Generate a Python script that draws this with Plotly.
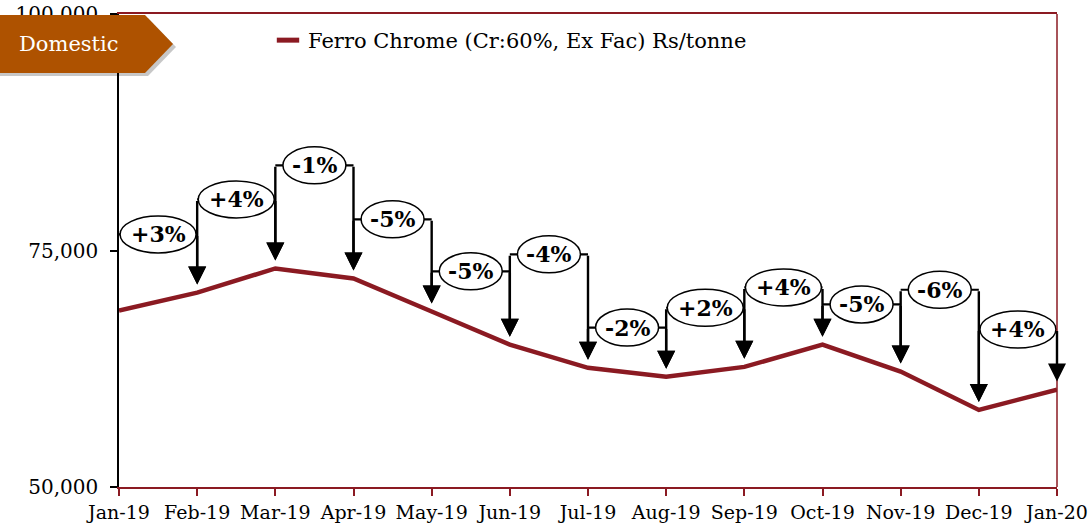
import plotly.graph_objects as go

months = ["Jan-19", "Feb-19", "Mar-19", "Apr-19", "May-19", "Jun-19", "Jul-19",
          "Aug-19", "Sep-19", "Oct-19", "Nov-19", "Dec-19", "Jan-20"]
prices = [68650, 70550, 73100, 72050, 68550, 65050, 62600,
          61650, 62700, 65050, 62200, 58150, 60300]
change_labels = ["+3%", "+4%", "-1%", "-5%", "-5%", "-4%", "-2%",
                 "+2%", "+4%", "-5%", "-6%", "+4%"]
# height (in Rs/tonne) at which each month-to-month change label sits
label_levels = [76700, 80400, 84000, 78300, 72800, 74600, 66850,
                68950, 71100, 69300, 70850, 66650]

series_name = "Ferro Chrome (Cr:60%, Ex Fac) Rs/tonne"
y_ticks = [50000, 75000, 100000]

DARK_RED = "#8B1A22"
FONT = "DejaVu Serif"

W, H = 1089, 527
ML, MT, MR, MB = 119, 14, 32, 40
PW, PH = W - ML - MR, H - MT - MB

xs = list(range(len(months)))

fig = go.Figure()
fig.add_trace(go.Scatter(x=xs, y=prices, mode="lines",
                         line=dict(color=DARK_RED, width=4.5),
                         showlegend=False, hoverinfo="skip"))
fig.add_trace(go.Scatter(x=[None], y=[None], mode="markers", name=series_name,
                         marker=dict(symbol="line-ew-open", size=18, color=DARK_RED,
                                     line=dict(color=DARK_RED, width=5))))

shapes = []
annotations = []
for i, lvl in enumerate(label_levels):
    shapes.append(dict(type="line", xref="x", yref="y", x0=i, x1=i + 1, y0=lvl, y1=lvl,
                       line=dict(color="black", width=2.2), layer="above"))
for i, (lvl, lab) in enumerate(zip(label_levels, change_labels)):
    w = 63 if lab.startswith("-") else 76
    shapes.append(dict(type="circle", xref="x", yref="y", xsizemode="pixel", ysizemode="pixel",
                       xanchor=i + 0.5, yanchor=lvl, x0=-w / 2, x1=w / 2, y0=-18.5, y1=18.5,
                       fillcolor="white", line=dict(color="black", width=1.5), layer="above"))
    annotations.append(dict(x=i + 0.5, y=lvl, xref="x", yref="y", text="<b>%s</b>" % lab,
                            showarrow=False, xanchor="center", yanchor="middle",
                            font=dict(family=FONT, size=22, color="black")))
for i, lvl in enumerate(label_levels):
    for j in ([i, i + 1] if i > 0 else [i + 1]):
        annotations.append(dict(x=j, y=prices[j], xref="x", yref="y",
                                ax=j, ay=lvl, axref="x", ayref="y", text="",
                                showarrow=True, arrowhead=2, arrowsize=1.5, arrowwidth=2.4,
                                arrowcolor="black", standoff=8))

shapes.append(dict(type="line", xref="paper", yref="paper", x0=1, x1=1, y0=0, y1=1,
                   line=dict(color=DARK_RED, width=1.5), layer="above"))
shapes.append(dict(type="path", xref="paper", yref="paper", xsizemode="pixel", ysizemode="pixel",
                   xanchor=0, yanchor=1,
                   path="M -119,-4 L 29,-4 L 57,-33 L 29,-62 L -119,-62 Z",
                   fillcolor="rgba(0,0,0,0.22)", line=dict(width=0), layer="above"))
shapes.append(dict(type="path", xref="paper", yref="paper", xsizemode="pixel", ysizemode="pixel",
                   xanchor=0, yanchor=1,
                   path="M -119,-1 L 26,-1 L 54,-30 L 26,-59 L -119,-59 Z",
                   fillcolor="#AE5200", line=dict(width=0), layer="above"))
annotations.append(dict(x=-50 / PW, y=1 - 30 / PH, xref="paper", yref="paper",
                        xanchor="center", yanchor="middle",
                        text="Domestic", showarrow=False,
                        font=dict(family=FONT, size=21, color="white")))

fig.update_layout(
    width=W, height=H,
    margin=dict(l=ML, r=MR, t=MT, b=MB, autoexpand=False),
    paper_bgcolor="white", plot_bgcolor="white",
    font=dict(family=FONT, color="black"),
    shapes=shapes, annotations=annotations,
    legend=dict(x=149 / PW, y=1 - 6 / PH, xanchor="left", yanchor="top",
                orientation="h", bgcolor="rgba(0,0,0,0)",
                font=dict(family=FONT, size=21, color="black"), itemwidth=30),
    xaxis=dict(range=[0, 12], tickvals=xs, ticktext=months, showgrid=False, zeroline=False,
               showline=True, linecolor=DARK_RED, linewidth=1.5, mirror=True,
               ticks="outside", ticklen=7, tickcolor=DARK_RED, tickwidth=1.5, automargin=False,
               tickfont=dict(family=FONT, size=19, color="black")),
    yaxis=dict(range=[50000, 100000], tickvals=y_ticks,
               ticktext=[f"{v:,}" for v in y_ticks], showgrid=False, zeroline=False,
               showline=True, linecolor="black", linewidth=1.5, automargin=False,
               ticks="outside", ticklen=7, tickcolor="black", tickwidth=1.5,
               ticklabelstandoff=8,
               tickfont=dict(family=FONT, size=20, color="black")),
)

fig.write_html("out.html", config={"displayModeBar": False},
               post_script="document.body.style.margin='0';")
